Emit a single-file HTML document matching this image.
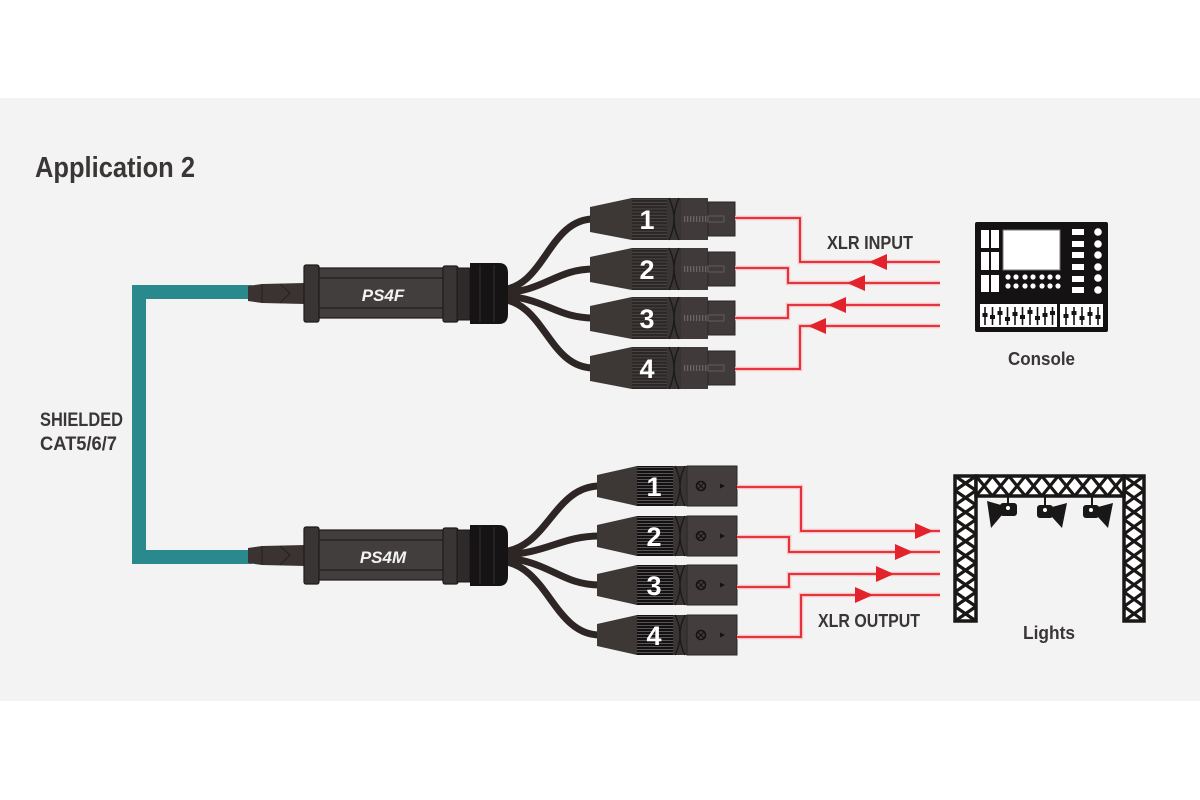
<!DOCTYPE html>
<html><head><meta charset="utf-8"><style>
html,body{margin:0;padding:0;background:#fff;}
svg{display:block;}
text{font-family:"Liberation Sans",sans-serif;font-weight:bold;}
</style></head><body>
<svg width="1200" height="800" viewBox="0 0 1200 800" xmlns="http://www.w3.org/2000/svg">
<defs>
  <pattern id="ribF" width="4" height="3.2" patternUnits="userSpaceOnUse"><rect width="4" height="3.2" fill="#2b2727"/><rect y="2.2" width="4" height="1" fill="#4b4545"/></pattern>
  <pattern id="ribM" width="4" height="3" patternUnits="userSpaceOnUse"><rect width="4" height="3" fill="#131111"/><rect y="2" width="4" height="1" fill="#5a5555"/></pattern>
  <pattern id="ribV" width="3" height="6" patternUnits="userSpaceOnUse"><rect width="3" height="6" fill="#3f3a39"/><rect width="1.3" height="6" fill="#6a6463"/></pattern>

  <g id="xlrF">
    <polygon points="590,-12 632,-21 632,21 590,13" fill="#3d3735"/>
    <rect x="632" y="-21" width="35" height="42" fill="url(#ribF)"/>
    <rect x="667" y="-21" width="14" height="42" fill="#3a3535"/>
    <path d="M669,-21 Q679,0 669,21 M679,-21 Q669,0 679,21" stroke="#1c1919" stroke-width="1.4" fill="none"/>
    <rect x="681" y="-21" width="27" height="42" fill="#403b3a"/>
    <rect x="708" y="-17" width="27" height="34" fill="#403b3a" stroke="#2a2626" stroke-width="1"/>
    <rect x="684" y="-3" width="23" height="6" fill="url(#ribV)"/>
    <rect x="708" y="-3" width="16" height="6" fill="none" stroke="#625b5a" stroke-width="1"/>
  </g>

  <g id="xlrM">
    <polygon points="597,-11 637,-20 637,20 597,11" fill="#3d3735"/>
    <rect x="637" y="-20" width="36" height="40" fill="url(#ribM)"/>
    <rect x="673" y="-20" width="14" height="40" fill="#3a3535"/>
    <path d="M675,-20 Q685,0 675,20 M685,-20 Q675,0 685,20" stroke="#1c1919" stroke-width="1.4" fill="none"/>
    <rect x="687" y="-20" width="50" height="40" fill="#433e3d" stroke="#2a2626" stroke-width="1"/>
    <circle cx="701" cy="0" r="4.5" fill="none" stroke="#151212" stroke-width="1.6"/>
    <path d="M698,-3 L704,3 M704,-3 L698,3" stroke="#151212" stroke-width="1.2"/>
    <polygon points="720,-2.5 725,0 720,2.5" fill="#151212"/>
  </g>

  <g id="unit">
    <path d="M248,286 L262,284 L305,283 L305,304 L262,303 L248,301 Z" fill="#3a3331"/>
    <path d="M262,284 L262,303 M280,284 L290,293 L280,303" stroke="#241f1e" stroke-width="1" fill="none"/>
    <rect x="304" y="265" width="15" height="57" rx="2" fill="#393534" stroke="#1e1b1b" stroke-width="1.2"/>
    <rect x="319" y="268" width="125" height="50" fill="#423e3d" stroke="#1e1b1b" stroke-width="1.2"/>
    <line x1="319" y1="278" x2="444" y2="278" stroke="#262222" stroke-width="1.5"/>
    <line x1="319" y1="308" x2="444" y2="308" stroke="#262222" stroke-width="1.5"/>
    <rect x="443" y="266" width="15" height="56" rx="2" fill="#393534" stroke="#1e1b1b" stroke-width="1.2"/>
    <rect x="457" y="268" width="13" height="52" fill="#2d2a29" stroke="#1a1717" stroke-width="1"/>
    <path d="M470,263 H499 Q508,263 508,273 V314 Q508,324 499,324 H470 Z" fill="#151313"/>
    <path d="M480,265 V322 M494,265 V322" stroke="#333030" stroke-width="1"/>
  </g>
</defs>

<rect x="0" y="98" width="1200" height="603" fill="#f3f3f3"/>

<text x="35" y="177" font-size="29" fill="#3a3636" textLength="160" lengthAdjust="spacingAndGlyphs">Application 2</text>
<text x="40" y="426" font-size="19" fill="#3a3636" textLength="83" lengthAdjust="spacingAndGlyphs">SHIELDED</text>
<text x="40" y="450" font-size="19" fill="#3a3636" textLength="77" lengthAdjust="spacingAndGlyphs">CAT5/6/7</text>

<!-- teal cable -->
<path d="M252,292 H139 V557 H252" fill="none" stroke="#2a898d" stroke-width="14"/>

<!-- cables -->
<g fill="none" stroke="#2e2624" stroke-width="7" stroke-linecap="round">
  <path d="M500,290 C545,288 548,219 594,219"/>
  <path d="M500,293 C545,292 555,269 594,269"/>
  <path d="M500,296 C545,297 555,318 594,318"/>
  <path d="M500,299 C545,302 548,368 594,368"/>
  <path d="M500,552 C548,550 553,486 600,486"/>
  <path d="M500,555 C548,554 560,536 600,536"/>
  <path d="M500,558 C548,559 560,585 600,585"/>
  <path d="M500,561 C548,564 553,635 600,635"/>
</g>

<use href="#unit"/>
<use href="#unit" y="262"/>
<text x="383" y="301" font-size="17" font-style="italic" fill="#f2f2f2" text-anchor="middle">PS4F</text>
<text x="383" y="563" font-size="17" font-style="italic" fill="#f2f2f2" text-anchor="middle">PS4M</text>

<use href="#xlrF" y="219"/>
<use href="#xlrF" y="269"/>
<use href="#xlrF" y="318"/>
<use href="#xlrF" y="368"/>
<use href="#xlrM" y="486"/>
<use href="#xlrM" y="536"/>
<use href="#xlrM" y="585"/>
<use href="#xlrM" y="635"/>

<g font-size="27" fill="#ffffff" text-anchor="middle">
  <text x="647" y="229">1</text>
  <text x="647" y="279">2</text>
  <text x="647" y="328">3</text>
  <text x="647" y="378">4</text>
  <text x="654" y="496">1</text>
  <text x="654" y="546">2</text>
  <text x="654" y="595">3</text>
  <text x="654" y="645">4</text>
</g>

<!-- red lines -->
<g fill="none" stroke="#f5c3c5" stroke-width="4.5">
  <path d="M735,218 H800 V262 H940"/>
  <path d="M735,268 H788 V283 H940"/>
  <path d="M735,318 H788 V305 H940"/>
  <path d="M735,369 H800 V326 H940"/>
  <path d="M737,487 H801 V531 H940"/>
  <path d="M737,537 H789 V552 H940"/>
  <path d="M737,587 H789 V574 H940"/>
  <path d="M737,637 H801 V595 H940"/>
</g>
<g fill="none" stroke="#e2232b" stroke-width="1.8">
  <path d="M735,218 H800 V262 H940"/>
  <path d="M735,268 H788 V283 H940"/>
  <path d="M735,318 H788 V305 H940"/>
  <path d="M735,369 H800 V326 H940"/>
  <path d="M737,487 H801 V531 H940"/>
  <path d="M737,537 H789 V552 H940"/>
  <path d="M737,587 H789 V574 H940"/>
  <path d="M737,637 H801 V595 H940"/>
</g>
<g fill="#e2232b">
  <polygon points="869,262 887,254 887,270"/>
  <polygon points="847,283 865,275 865,291"/>
  <polygon points="828,305 846,297 846,313"/>
  <polygon points="808,326 826,318 826,334"/>
  <polygon points="933,531 915,523 915,539"/>
  <polygon points="913,552 895,544 895,560"/>
  <polygon points="894,574 876,566 876,582"/>
  <polygon points="873,595 855,587 855,603"/>
</g>

<text x="827" y="249" font-size="18" fill="#3a3636" textLength="86" lengthAdjust="spacingAndGlyphs">XLR INPUT</text>
<text x="818" y="627" font-size="18" fill="#3a3636" textLength="102" lengthAdjust="spacingAndGlyphs">XLR OUTPUT</text>

<!-- console -->
<g>
  <rect x="975" y="222" width="133" height="110" rx="2" fill="#141212"/>
  <g fill="#ffffff">
    <rect x="981" y="230" width="8" height="18"/><rect x="991" y="230" width="8" height="18"/>
    <rect x="981" y="252" width="8" height="18"/><rect x="991" y="252" width="8" height="18"/>
    <rect x="981" y="275" width="8" height="17"/><rect x="991" y="275" width="8" height="17"/>
    <rect x="1003" y="230" width="57" height="40" stroke="#777" stroke-width="1"/>
    <rect x="1072" y="229" width="12" height="6"/><rect x="1072" y="241" width="12" height="6"/>
    <rect x="1072" y="252" width="12" height="6"/><rect x="1072" y="264" width="12" height="6"/>
    <rect x="1072" y="276" width="12" height="6"/><rect x="1072" y="287" width="12" height="6"/>
    <circle cx="1098" cy="232" r="3.8"/><circle cx="1098" cy="244" r="3.8"/>
    <circle cx="1098" cy="255" r="3.8"/><circle cx="1098" cy="267" r="3.8"/>
    <circle cx="1098" cy="278" r="3.8"/><circle cx="1098" cy="290" r="3.8"/>
    <circle cx="1008" cy="277" r="2.6"/><circle cx="1016" cy="277" r="2.6"/><circle cx="1025" cy="277" r="2.6"/><circle cx="1033" cy="277" r="2.6"/><circle cx="1042" cy="277" r="2.6"/><circle cx="1050" cy="277" r="2.6"/><circle cx="1058" cy="277" r="2.6"/>
    <circle cx="1008" cy="286" r="2.6"/><circle cx="1016" cy="286" r="2.6"/><circle cx="1025" cy="286" r="2.6"/><circle cx="1033" cy="286" r="2.6"/><circle cx="1042" cy="286" r="2.6"/><circle cx="1050" cy="286" r="2.6"/><circle cx="1058" cy="286" r="2.6"/>
    <rect x="980" y="304" width="77" height="23"/>
    <rect x="1060" y="304" width="43" height="23"/>
  </g>
  <g stroke="#141212" stroke-width="1.6">
    <path d="M985,307 V325 M992.5,307 V325 M1000,307 V325 M1007.5,307 V325 M1015,307 V325 M1022.5,307 V325 M1030,307 V325 M1037.5,307 V325 M1045,307 V325 M1052.5,307 V325"/>
    <path d="M1066,307 V325 M1074,307 V325 M1082,307 V325 M1090,307 V325 M1098,307 V325"/>
  </g>
  <g fill="#141212">
    <rect x="982.5" y="313" width="5" height="4"/><rect x="990" y="315" width="5" height="4"/><rect x="997.5" y="311" width="5" height="4"/><rect x="1005" y="317" width="5" height="4"/><rect x="1012.5" y="312" width="5" height="4"/><rect x="1020" y="315" width="5" height="4"/><rect x="1027.5" y="310" width="5" height="4"/><rect x="1035" y="316" width="5" height="4"/><rect x="1042.5" y="313" width="5" height="4"/><rect x="1050" y="311" width="5" height="4"/>
    <rect x="1063.5" y="314" width="5" height="4"/><rect x="1071.5" y="311" width="5" height="4"/><rect x="1079.5" y="316" width="5" height="4"/><rect x="1087.5" y="312" width="5" height="4"/><rect x="1095.5" y="315" width="5" height="4"/>
  </g>
</g>
<text x="1008" y="365" font-size="18" fill="#3a3636" textLength="67" lengthAdjust="spacingAndGlyphs">Console</text>

<!-- truss -->
<g>
  <rect x="955" y="476" width="21" height="145" fill="#ffffff" stroke="#1a1717" stroke-width="3.5"/>
  <rect x="1124" y="476" width="20" height="145" fill="#ffffff" stroke="#1a1717" stroke-width="3.5"/>
  <rect x="976" y="476" width="148" height="20" fill="#ffffff" stroke="#1a1717" stroke-width="3.5"/>
  <g stroke="#1a1717" stroke-width="3.2" fill="none">
    <path d="M955,476 L976,490.5 M976,476 L955,490.5 M955,490.5 L976,505 M976,490.5 L955,505 M955,505 L976,519.5 M976,505 L955,519.5 M955,519.5 L976,534 M976,519.5 L955,534 M955,534 L976,548.5 M976,534 L955,548.5 M955,548.5 L976,563 M976,548.5 L955,563 M955,563 L976,577.5 M976,563 L955,577.5 M955,577.5 L976,592 M976,577.5 L955,592 M955,592 L976,606.5 M976,592 L955,606.5 M955,606.5 L976,621 M976,606.5 L955,621"/>
    <path d="M1124,476 L1144,490.5 M1144,476 L1124,490.5 M1124,490.5 L1144,505 M1144,490.5 L1124,505 M1124,505 L1144,519.5 M1144,505 L1124,519.5 M1124,519.5 L1144,534 M1144,519.5 L1124,534 M1124,534 L1144,548.5 M1144,534 L1124,548.5 M1124,548.5 L1144,563 M1144,548.5 L1124,563 M1124,563 L1144,577.5 M1144,563 L1124,577.5 M1124,577.5 L1144,592 M1144,577.5 L1124,592 M1124,592 L1144,606.5 M1144,592 L1124,606.5 M1124,606.5 L1144,621 M1144,606.5 L1124,621"/>
    <path d="M976,476 L992.4,496 M992.4,476 L976,496 M992.4,476 L1008.9,496 M1008.9,476 L992.4,496 M1008.9,476 L1025.3,496 M1025.3,476 L1008.9,496 M1025.3,476 L1041.8,496 M1041.8,476 L1025.3,496 M1041.8,476 L1058.2,496 M1058.2,476 L1041.8,496 M1058.2,476 L1074.7,496 M1074.7,476 L1058.2,496 M1074.7,476 L1091.1,496 M1091.1,476 L1074.7,496 M1091.1,476 L1107.6,496 M1107.6,476 L1091.1,496 M1107.6,476 L1124,496 M1124,476 L1107.6,496"/>
  </g>
  <!-- spotlights -->
  <g stroke="#1a1717" stroke-width="2"><path d="M1008,496 V505 M1045,496 V507 M1092,496 V507"/></g>
  <g fill="#1a1717">
    <rect x="1000" y="503" width="17" height="13" rx="3"/>
    <polygon points="1001,505 987,501 991,528 1002,515"/>
    <rect x="1037" y="505" width="16" height="13" rx="3"/>
    <polygon points="1052,507 1067,503 1062,528 1052,517"/>
    <rect x="1083" y="505" width="16" height="13" rx="3"/>
    <polygon points="1098,507 1113,503 1108,528 1098,517"/>
  </g>
  <g fill="#ffffff"><circle cx="1008" cy="508" r="2"/><circle cx="1045" cy="510" r="2"/><circle cx="1091" cy="510" r="2"/></g>
</g>
<text x="1023" y="639" font-size="18" fill="#3a3636" textLength="52" lengthAdjust="spacingAndGlyphs">Lights</text>
</svg>
</body></html>
